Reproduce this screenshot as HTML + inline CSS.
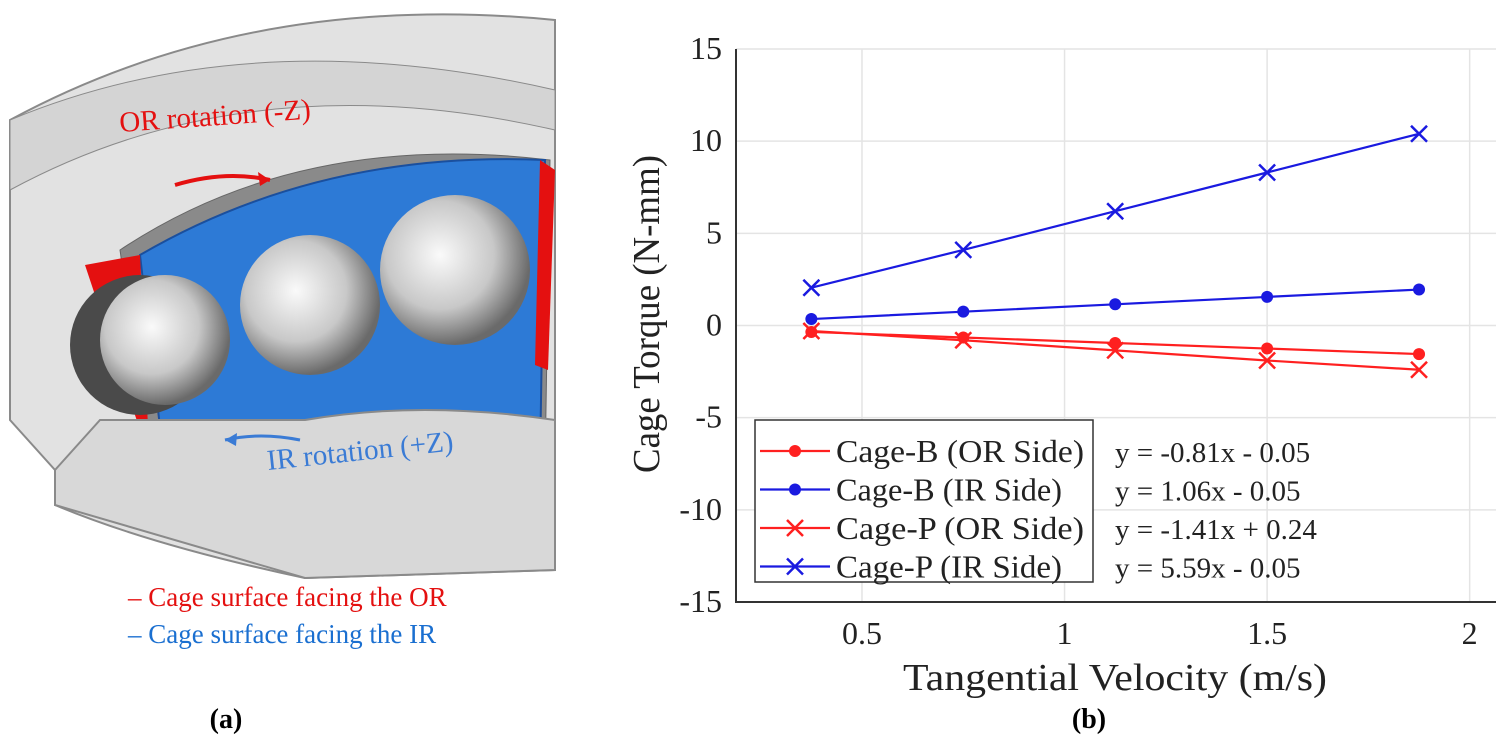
<!DOCTYPE html>
<html><head><meta charset="utf-8"><style>
body{margin:0;background:#fff;}
svg{display:block;font-family:"Liberation Serif",serif;}
</style></head><body>
<svg width="1500" height="752" viewBox="0 0 1500 752">
<defs>
<radialGradient id="ball" cx="0.4" cy="0.4" r="0.6"><stop offset="0" stop-color="#fafafa"/><stop offset="0.6" stop-color="#c8c8c8"/><stop offset="1" stop-color="#6a6a6a"/></radialGradient>
</defs>
<g>
<path d="M10,120 Q250,-10 555,20 L555,570 L305,578 Q150,545 55,505 L55,470 L10,420 Z" fill="#e2e2e2" stroke="#8a8a8a" stroke-width="2"/>
<path d="M10,120 Q250,20 555,90 L555,130 Q250,60 10,190 Z" fill="#d4d4d4" stroke="#8a8a8a"/>
<path d="M120,250 Q300,130 550,160 L545,470 Q320,430 200,540 L150,460 Z" fill="#8a8a8a" stroke="#666"/>
<path d="M140,255 Q320,150 545,160 L540,460 Q360,420 225,540 L165,470 Z" fill="#2d7ad6" stroke="#1a4f9e" stroke-width="2"/>
<path d="M85,265 L140,255 L150,470 L180,510 L150,460 Z" fill="#e41010"/>
<path d="M140,420 L200,480 L150,465 Z" fill="#e41010"/>
<path d="M540,160 L555,170 L548,370 L535,365 Z" fill="#e41010"/>
<circle cx="140" cy="345" r="70" fill="#4a4a4a"/>
<circle cx="165" cy="340" r="65" fill="url(#ball)"/>
<circle cx="310" cy="305" r="70" fill="url(#ball)"/>
<circle cx="455" cy="270" r="75" fill="url(#ball)"/>
<path d="M55,470 L100,420 L305,420 Q420,400 555,420 L555,570 L305,578 L55,505 Z" fill="#d8d8d8" stroke="#8a8a8a" stroke-width="2"/>
<path d="M175,185 Q225,170 270,180" fill="none" stroke="#e41010" stroke-width="4"/>
<path d="M270,180 l-12,-8 l2,14 z" fill="#e41010"/>
<path d="M300,440 Q260,432 225,440" fill="none" stroke="#3a7bd5" stroke-width="3"/>
<path d="M225,440 l12,-7 l-1,13 z" fill="#3a7bd5"/>
<text x="120" y="132" font-size="29" fill="#e41010" transform="rotate(-4 120 132)">OR rotation (-Z)</text>
<text x="268" y="470" font-size="29" fill="#3a7bd5" transform="rotate(-6 268 470)">IR rotation (+Z)</text>
</g>
<text x="128" y="606" font-size="27" fill="#e41010">– Cage surface facing the OR</text>
<text x="128" y="643" font-size="27" fill="#1a6fd0">– Cage surface facing the IR</text>
<text x="226" y="728" font-size="28" font-weight="bold" text-anchor="middle">(a)</text>
<text x="1089" y="728" font-size="28" font-weight="bold" text-anchor="middle">(b)</text>
<g id="chart"></g>
</svg>
<script>
const xValues=[0.375,0.75,1.125,1.5,1.875];
const cageBOR=[-0.35,-0.65,-0.95,-1.25,-1.55];
const cageBIR=[0.35,0.75,1.15,1.55,1.95];
const cagePOR=[-0.3,-0.8,-1.35,-1.9,-2.4];
const cagePIR=[2.05,4.1,6.2,8.3,10.4];
const xTicks=[0.5,1,1.5,2];
const xTickLabels=["0.5","1","1.5","2"];
const yTicks=[-15,-10,-5,0,5,10,15];
const yTickLabels=["-15","-10","-5","0","5","10","15"];
const legendNames=["Cage-B (OR Side)","Cage-B (IR Side)","Cage-P (OR Side)","Cage-P (IR Side)"];
const equations=["y = -0.81x - 0.05","y = 1.06x - 0.05","y = -1.41x + 0.24","y = 5.59x - 0.05"];

const NS="http://www.w3.org/2000/svg";
const g=document.getElementById('chart');
const L=736,R=1496,T=49,B=602,xmin=0.189,xmax=2.065,ymin=-15,ymax=15;
const sx=v=>L+(v-xmin)/(xmax-xmin)*(R-L);
const sy=v=>B-(v-ymin)/(ymax-ymin)*(B-T);
function mk(tag,attrs,parent){const e=document.createElementNS(NS,tag);for(const k in attrs)e.setAttribute(k,attrs[k]);(parent||g).appendChild(e);return e;}
xTicks.forEach((t,i)=>{
 const l=mk('line',{x1:sx(t),x2:sx(t),y1:T,y2:B,stroke:'#e4e4e4','stroke-width':1.5});
 
 
 const tx=mk('text',{x:sx(t),y:B+42,'font-size':32,'text-anchor':'middle',fill:'#222'});tx.textContent=xTickLabels[i];
 
 
});
yTicks.forEach((t,i)=>{
 const l=mk('line',{x1:L,x2:R,y1:sy(t),y2:sy(t),stroke:'#e4e4e4','stroke-width':1.5});
 
 
 const tx=mk('text',{x:L-14,y:sy(t)+10,'font-size':32,'text-anchor':'end',fill:'#222'});tx.textContent=yTickLabels[i];
 
 
});
const ax=mk('path',{d:`M${L},${T} L${L},${B} L${R},${B}`,fill:'none',stroke:'#333','stroke-width':2});


const xt=mk('text',{x:903,y:690,'font-size':38,fill:'#222',textLength:424,lengthAdjust:'spacingAndGlyphs'});xt.textContent='Tangential Velocity (m/s)';


const yt=mk('text',{x:0,y:0,'font-size':38,fill:'#222',textLength:318,lengthAdjust:'spacingAndGlyphs',transform:'translate(659 473) rotate(-90)'});yt.textContent='Cage Torque (N-mm)';


const series=[[cageBOR,'#ff2020','dot'],[cageBIR,'#1a1ae0','dot'],[cagePOR,'#ff2020','x'],[cagePIR,'#1a1ae0','x']];
function marker(x,y,col,type,name){
 let m;
 if(type==='dot'){m=mk('circle',{cx:x,cy:y,r:6,fill:col});}
 else{m=mk('path',{d:`M${x-8},${y-8}L${x+8},${y+8}M${x-8},${y+8}L${x+8},${y-8}`,stroke:col,'stroke-width':2.5,fill:'none'});}
 
 
}
series.forEach((s,i)=>{
 const pts=xValues.map((x,j)=>sx(x)+','+sy(s[0][j])).join(' ');
 const pl=mk('polyline',{points:pts,fill:'none',stroke:s[1],'stroke-width':2.2});
 
 
 xValues.forEach((x,j)=>marker(sx(x),sy(s[0][j]),s[1],s[2],'data-point'));
});
const lb=mk('rect',{x:755,y:420,width:338,height:162,fill:'#fff',stroke:'#333','stroke-width':1.5});


series.forEach((s,i)=>{
 const y=451+i*38.5;
 const ln=mk('line',{x1:760,x2:830,y1:y,y2:y,stroke:s[1],'stroke-width':2.2});
 
 
 marker(795,y,s[1],s[2],'legend-marker');
 const t=mk('text',{x:836,y:y+11,'font-size':32,fill:'#222',textLength:248,lengthAdjust:'spacingAndGlyphs'});t.textContent=legendNames[i];
 if(i%2===1)t.setAttribute('textLength',226);
 
 
 const e=mk('text',{x:1115,y:y+11,'font-size':29,fill:'#222'});e.textContent=equations[i];
 
 
});
</script>
</body></html>
